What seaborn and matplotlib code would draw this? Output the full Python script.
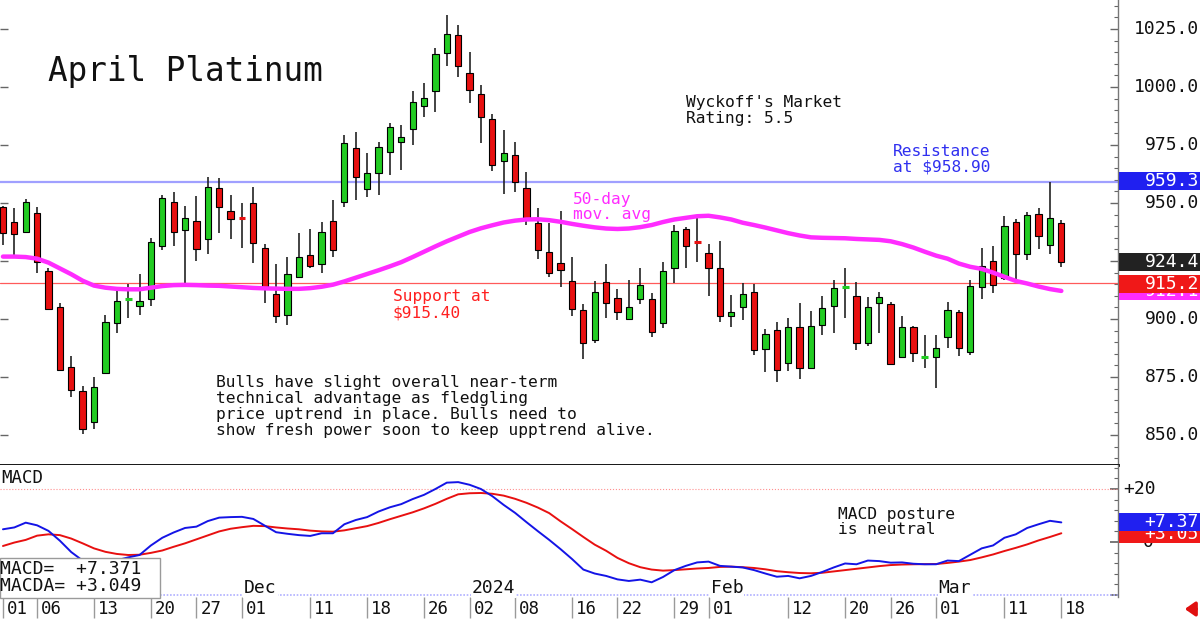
import numpy as np
import pandas as pd
import matplotlib
matplotlib.use("Agg")
import matplotlib.pyplot as plt
from matplotlib.ticker import MultipleLocator
from matplotlib.transforms import blended_transform_factory
from matplotlib.patches import Rectangle
import seaborn as sns

# exchange closed on these days, so they are not on the chart
HOLIDAYS = ["2023-11-23", "2023-12-25", "2024-01-01", "2024-01-15", "2024-02-19"]

opens = [
    948.1, 941.9, 937.4, 945.6, 920.8, 905.3, 879.2, 869.1, 855.7, 876.6,
    898.4, 908.6, 905.6, 908.6, 931.6, 950.3, 938.4, 942.2, 934.4, 956.3,
    946.6, 943.5, 949.9, 930.5, 910.8, 901.7, 918.2, 927.6, 923.6, 942.2,
    950.3, 973.6, 955.9, 963.1, 972.1, 976.4, 981.9, 991.8, 998.4, 1014.5,
    1022.4, 1006.2, 996.9, 986.3, 968.2, 970.7, 956.3, 941.3, 929.0, 924.0,
    916.5, 903.9, 890.9, 915.8, 908.9, 900.0, 908.5, 908.6, 898.4, 921.9,
    938.7, 933.0, 928.3, 921.9, 901.4, 905.3, 911.8, 886.9, 895.3, 880.9,
    896.7, 878.7, 897.4, 905.6, 913.9, 910.0, 889.5, 906.8, 906.5, 883.5,
    896.4, 883.5, 883.5, 892.1, 902.9, 885.9, 913.7, 925.0, 917.5, 941.9,
    928.0, 945.3, 931.9, 941.3,
]
highs = [
    948.5, 947.7, 951.6, 948.4, 921.9, 907.0, 884.0, 871.1, 875.1, 901.7,
    913.9, 915.0, 919.4, 934.8, 953.4, 954.9, 948.7, 953.0, 961.1, 960.7,
    953.4, 950.1, 956.8, 932.2, 923.7, 926.6, 936.9, 938.7, 941.7, 951.3,
    979.3, 980.7, 971.7, 976.4, 984.6, 983.6, 998.4, 1001.6, 1016.7, 1031.0,
    1026.7, 1015.2, 1000.9, 988.2, 981.5, 976.4, 963.5, 947.7, 941.5, 946.6,
    926.6, 906.5, 916.4, 923.7, 912.8, 916.8, 922.1, 911.1, 924.7, 940.5,
    939.8, 943.4, 932.2, 933.6, 910.3, 915.4, 915.0, 895.7, 898.8, 900.3,
    906.8, 903.4, 910.0, 916.8, 921.9, 916.1, 909.6, 911.8, 907.5, 901.3,
    897.0, 893.1, 893.1, 907.2, 903.9, 916.8, 930.5, 931.5, 944.4, 943.0,
    946.3, 947.7, 959.2, 942.7,
]
lows = [
    931.9, 926.2, 936.9, 920.0, 903.9, 877.6, 866.2, 850.4, 852.5, 876.6,
    894.1, 900.3, 901.7, 905.6, 929.7, 931.5, 914.7, 925.1, 928.0, 936.9,
    934.5, 930.5, 924.0, 906.8, 898.1, 897.4, 917.5, 921.9, 919.7, 926.6,
    948.4, 951.3, 952.7, 953.4, 962.1, 964.2, 975.0, 987.2, 989.4, 1009.1,
    1004.4, 993.0, 975.7, 963.9, 953.8, 954.9, 940.5, 925.7, 918.0, 913.9,
    901.3, 882.8, 889.8, 900.6, 899.6, 900.0, 906.3, 892.4, 896.2, 915.6,
    921.9, 924.7, 910.0, 898.8, 896.7, 899.6, 884.5, 877.3, 873.0, 877.7,
    874.0, 878.4, 893.1, 894.1, 900.3, 886.6, 888.5, 893.8, 880.2, 883.1,
    881.6, 878.8, 870.1, 887.4, 884.1, 884.5, 908.6, 911.1, 916.8, 915.4,
    925.4, 930.0, 928.0, 922.3,
]
closes = [
    936.9, 936.5, 950.3, 924.7, 904.3, 878.0, 869.4, 852.5, 870.6, 898.8,
    907.9, 908.6, 907.9, 933.3, 952.0, 937.6, 943.4, 930.2, 956.8, 948.4,
    943.0, 943.4, 932.6, 913.9, 901.3, 919.4, 926.9, 922.8, 937.4, 929.7,
    975.7, 961.3, 962.8, 974.0, 982.6, 978.6, 993.4, 995.1, 1014.1, 1022.8,
    1009.2, 998.7, 987.2, 966.4, 971.4, 959.2, 943.4, 929.7, 919.7, 921.1,
    904.3, 889.5, 911.8, 906.8, 902.9, 905.0, 914.7, 894.5, 920.8, 937.9,
    931.6, 932.9, 922.1, 901.4, 902.9, 910.6, 886.6, 893.5, 878.0, 896.7,
    878.7, 897.0, 904.6, 913.2, 913.9, 889.8, 905.0, 909.3, 880.6, 896.7,
    885.2, 883.5, 887.4, 903.9, 887.4, 914.4, 923.0, 914.7, 940.1, 928.0,
    944.8, 935.9, 943.4, 924.4,
]
ma50 = [
    926.9, 926.9, 926.7, 926.0, 924.3, 921.8, 919.3, 916.5, 914.4, 913.5,
    913.0, 912.8, 912.8, 913.5, 914.2, 914.6, 914.7, 914.6, 914.4, 914.3,
    914.0, 913.7, 913.4, 913.2, 913.1, 913.0, 913.0, 913.3, 913.9, 914.8,
    916.2, 917.8, 919.4, 921.0, 922.7, 924.5, 926.7, 929.0, 931.3, 933.5,
    935.5, 937.5, 939.1, 940.4, 941.6, 942.4, 942.9, 943.0, 942.6, 941.9,
    941.0, 940.2, 939.5, 939.0, 938.8, 939.0, 939.6, 940.5, 941.8, 942.9,
    943.6, 944.3, 944.5, 943.8, 942.9, 941.5, 940.5, 939.4, 938.2, 937.0,
    936.0, 935.2, 935.0, 934.9, 934.8, 934.5, 934.3, 934.1, 933.5, 932.3,
    930.8, 929.0, 927.3, 926.0, 923.9, 922.5, 921.6, 920.0, 918.2, 916.4,
    915.3, 914.0, 912.9, 912.1,
]
macd = [
    4.8, 5.5, 7.3, 6.3, 4.2, 0.5, -3.8, -7.0, -8.3, -8.0,
    -6.9, -5.8, -4.9, -1.3, 1.6, 3.6, 5.3, 5.8, 7.9, 9.2,
    9.4, 9.5, 8.7, 6.2, 3.7, 3.1, 2.6, 2.3, 3.3, 3.3,
    6.7, 8.3, 9.4, 11.5, 13.1, 14.3, 16.2, 17.8, 20.0, 22.4,
    22.6, 21.6, 20.0, 17.3, 14.0, 11.0, 7.5, 4.1, 0.8, -2.7,
    -6.4, -10.4, -11.9, -12.8, -14.1, -14.7, -14.2, -15.2, -13.2, -10.6,
    -9.0, -7.7, -7.4, -9.0, -9.3, -9.6, -10.6, -11.9, -13.1, -12.8,
    -13.7, -12.8, -11.3, -9.6, -8.1, -8.4, -7.0, -7.2, -7.8, -7.7,
    -8.2, -8.4, -8.4, -7.0, -7.2, -4.8, -2.4, -1.3, 1.6, 2.9,
    5.3, 6.7, 8.0, 7.4,
]
macda = [
    -1.5, -0.2, 0.8, 2.4, 2.9, 2.6, 1.3, -0.5, -2.4, -3.7,
    -4.5, -4.9, -4.8, -4.1, -3.2, -1.8, -0.5, 1.0, 2.5, 4.0,
    5.0, 5.6, 6.1, 6.0, 5.5, 5.1, 4.8, 4.3, 4.0, 3.9,
    4.4, 5.2, 6.0, 7.2, 8.6, 9.9, 11.2, 12.7, 14.4, 16.3,
    18.0, 18.4, 18.5, 18.2, 17.5, 16.3, 14.8, 13.0, 10.9, 7.8,
    4.9, 1.9, -1.0, -3.3, -6.0, -8.0, -9.5, -10.4, -10.8, -10.6,
    -10.3, -10.0, -9.8, -9.4, -9.3, -9.5, -9.8, -10.3, -11.0, -11.4,
    -11.7, -11.8, -11.6, -11.1, -10.6, -10.1, -9.6, -9.1, -8.7, -8.5,
    -8.4, -8.35, -8.3, -7.9, -7.4, -6.8, -5.8, -4.7, -3.4, -2.2,
    -0.9, 0.6, 1.9, 3.3,
]

tick_days = [
    "2023-11-01", "2023-11-06", "2023-11-13", "2023-11-20", "2023-11-27",
    "2023-12-01", "2023-12-11", "2023-12-18", "2023-12-26", "2024-01-02",
    "2024-01-08", "2024-01-16", "2024-01-22", "2024-01-29", "2024-02-01",
    "2024-02-12", "2024-02-20", "2024-02-26", "2024-03-01", "2024-03-11",
    "2024-03-18",
]
month_days = ["2023-12-01", "2024-01-02", "2024-02-01", "2024-03-01"]
month_names = ["Dec", "2024", "Feb", "Mar"]

GREEN = "#22cc22"
RED = "#e81010"
BLUE = "#1414e6"
MAGENTA = "#ff2cff"

sns.set_theme(style="white")
plt.rcParams["font.family"] = ["DejaVu Sans Mono", "DejaVu Sans"]

dates = pd.bdate_range("2023-11-01", "2024-03-18", freq="C", holidays=HOLIDAYS)
df = pd.DataFrame({"date": dates, "open": opens, "high": highs,
                   "low": lows, "close": closes, "ma": ma50,
                   "macd": macd, "macda": macda})
df["i"] = np.arange(len(df))
pos = {d.strftime("%Y-%m-%d"): i for i, d in enumerate(df["date"])}

W, H = 1200, 619


def fx(px):
    return px / W


def fy(py):
    return 1 - py / H


fig = plt.figure(figsize=(12, 6.19), dpi=100)
ax = fig.add_axes([0, fy(465), fx(1118), 465 / H])
ax2 = fig.add_axes([0, fy(597), fx(1118), 132 / H])

# ---- price panel ----
ax.axhline(958.9, color="#a0a0ff", lw=1.6, zorder=1)
ax.axhline(915.4, color="#ff5a5a", lw=0.9, zorder=1.5)

up = (df["close"] >= df["open"]).to_numpy()
doji = ((df["close"] - df["open"]).abs() < 0.5).to_numpy()
colors = np.where(up, GREEN, RED)

ax.vlines(df["i"], df["low"], df["high"], color="#222222", lw=1.2, zorder=2)
body = df[~doji]
ax.bar(body["i"], (body["close"] - body["open"]).abs(),
       bottom=body[["open", "close"]].min(axis=1), width=0.55,
       color=colors[~doji], edgecolor="black", linewidth=0.8, zorder=3)
dj = df[doji]
ax.hlines(dj["open"], dj["i"] - 0.3, dj["i"] + 0.3, color=colors[doji],
          lw=2.2, zorder=3)

sns.lineplot(data=df, x="i", y="ma", ax=ax, color=MAGENTA, lw=3.2,
             zorder=4, legend=False)

ax.set_xlim(-0.26, 97.98)
ax.set_ylim(837.07, 1037.5)
ax.set_xlabel("")
ax.set_ylabel("")
ax.set_xticks([])
ax.yaxis.set_major_locator(MultipleLocator(25))
ax.yaxis.set_minor_locator(MultipleLocator(5))
ax.tick_params(axis="y", which="both", right=True, left=True, direction="in",
               labelleft=False, labelright=False, color="#666666")
ax.tick_params(axis="y", which="major", length=6, width=1)
ax.tick_params(axis="y", which="minor", length=3, width=0.8, left=False)
for s in ("top", "left"):
    ax.spines[s].set_visible(False)
ax.spines["right"].set_color("#777777")
ax.spines["right"].set_linewidth(1)
ax.spines["bottom"].set_color("black")
ax.spines["bottom"].set_linewidth(2)

ptrans = blended_transform_factory(fig.transFigure, ax.transData)
for v in range(850, 1026, 25):
    fig.text(fx(1199), v, f"{v:.1f}", transform=ptrans, ha="right",
             va="center", fontsize=13, color="#111111")

box_z = [5]


def value_box(trans, y, h, text, color):
    # later boxes sit on top of earlier ones, text included
    z = box_z[0]
    fig.add_artist(Rectangle((fx(1119), y - h / 2), fx(1200) - fx(1119), h,
                             transform=trans, facecolor=color,
                             edgecolor="none", zorder=z))
    fig.text(fx(1199), y, text, transform=trans, ha="right", va="center",
             fontsize=13, color="white", zorder=z + 0.5)
    box_z[0] += 1


value_box(ptrans, 912.1, 7.8, "912.1", MAGENTA)
value_box(ptrans, 915.2, 7.8, "915.2", "#f01818")
value_box(ptrans, 924.4, 7.8, "924.4", "#222222")
value_box(ptrans, 959.3, 7.8, "959.3", "#2020f0")


def lines(x, ys, texts, color="#111111", size=11.7):
    for y, t in zip(ys, texts):
        fig.text(fx(x), fy(y), t, ha="left", va="center", fontsize=size,
                 color=color)


fig.text(fx(48), fy(72), "April Platinum", ha="left", va="center",
         fontsize=23.5, color="#111111")
lines(686, [102, 118], ["Wyckoff's Market", "Rating: 5.5"])
lines(893, [151, 167], ["Resistance", "at $958.90"], color="#3030f0")
lines(393, [297, 313], ["Support at", "$915.40"], color="#ff2020")
lines(573, [199, 215], ["50-day", "mov. avg"], color=MAGENTA)
lines(216, [382, 399, 415, 431],
      ["Bulls have slight overall near-term",
       "technical advantage as fledgling",
       "price uptrend in place. Bulls need to",
       "show fresh power soon to keep upptrend alive."])

# ---- MACD panel ----
ax2.axhline(20, color="#ff9090", lw=0.8, ls=":", zorder=1)
ax2.axhline(-20.0, color="#b0b0ff", lw=1.2, ls=(0, (1, 1)), zorder=1)
sns.lineplot(data=df, x="i", y="macda", ax=ax2, color=RED, lw=1.4,
             legend=False, zorder=3)
sns.lineplot(data=df, x="i", y="macd", ax=ax2, color=BLUE, lw=1.4,
             legend=False, zorder=4)
ax2.set_xlim(-0.26, 97.98)
ax2.set_ylim(-20.75, 29.06)
ax2.set_xlabel("")
ax2.set_ylabel("")
ax2.yaxis.set_major_locator(MultipleLocator(20))
ax2.yaxis.set_minor_locator(MultipleLocator(4))
ax2.tick_params(axis="y", which="both", right=True, left=False, direction="in",
                labelleft=False, labelright=False, color="#666666")
ax2.tick_params(axis="y", which="major", length=6)
ax2.tick_params(axis="y", which="minor", length=3, width=0.8)
for s in ("top", "left", "bottom"):
    ax2.spines[s].set_visible(False)
ax2.spines["right"].set_color("#777777")
ax2.spines["right"].set_linewidth(1)

tick_idx = [pos[d] for d in tick_days]
ax2.set_xticks(tick_idx)
ax2.tick_params(axis="x", which="major", bottom=True, direction="out",
                length=15, width=1, color="#9a9a9a", labelbottom=False)
xtrans = blended_transform_factory(ax2.transData, fig.transFigure)
for d, i in zip(tick_days, tick_idx):
    ax2.text(i + 0.35, fy(609), d[-2:], transform=xtrans, ha="left",
             va="center", fontsize=12.5, color="#111111")
for d, name in zip(month_days, month_names):
    ax2.text(pos[d] + 0.2, -17.4, name, ha="left", va="center", fontsize=13,
             color="#111111", zorder=5,
             bbox=dict(facecolor="white", edgecolor="none", pad=0.5))

mtrans = blended_transform_factory(fig.transFigure, ax2.transData)
fig.text(fx(1156), 20, "+20", transform=mtrans, ha="right", va="center",
         fontsize=13, color="#111111")
fig.text(fx(1154), 0, "0", transform=mtrans, ha="right", va="center",
         fontsize=13, color="#111111", zorder=4)
value_box(mtrans, 3.049, 6.8, "+3.05", "#f01818")
value_box(mtrans, 7.371, 6.8, "+7.37", "#2020f0")

fig.text(fx(1), fy(478), "MACD", ha="left", va="center", fontsize=12.5,
         color="#111111")
fig.add_artist(Rectangle((0, fy(598)), fx(160), 40 / H, transform=fig.transFigure,
                         facecolor="white", edgecolor="#9a9a9a", lw=1))
fig.text(fx(0), fy(569), "MACD=  +7.371", ha="left", va="center",
         fontsize=13, color="#111111")
fig.text(fx(0), fy(586), "MACDA= +3.049", ha="left", va="center",
         fontsize=13, color="#111111")
lines(838, [514, 530], ["MACD posture", "is neutral"])

ax2.annotate("", xy=(fx(1182), fy(609)), xytext=(fx(1199), fy(609)),
             xycoords="figure fraction", textcoords="figure fraction",
             arrowprops=dict(arrowstyle="-|>,head_width=0.35,head_length=0.5",
                             color="#e01010", lw=2.5),
             annotation_clip=False)

fig.savefig("out.png", dpi=100)
